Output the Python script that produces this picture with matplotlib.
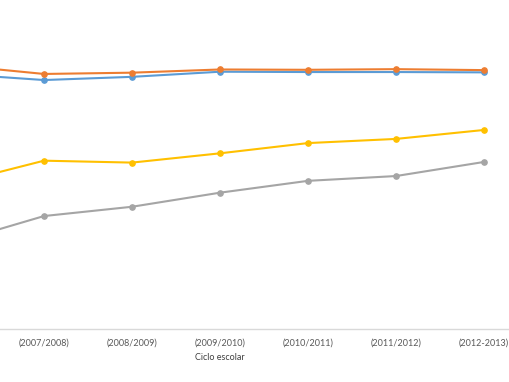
import matplotlib.pyplot as plt

# ciclos escolares (el primero queda fuera del recorte)
ciclos = ['(2006/2007)', '(2007/2008)', '(2008/2009)', '(2009/2010)',
          '(2010/2011)', '(2011/2012)', '(2012-2013)']

naranja = [82.4, 79.7, 80.1, 81.1, 81.0, 81.2, 80.9]
azul = [79.7, 77.8, 78.8, 80.4, 80.3, 80.3, 80.2]
amarillo = [45.6, 52.6, 52.0, 54.9, 58.1, 59.4, 62.2]
gris = [27.2, 35.3, 38.2, 42.6, 46.3, 47.8, 52.2]

plt.rcParams['font.family'] = ['Lato', 'DejaVu Sans']

fig = plt.figure(figsize=(5.1, 3.82), dpi=100)
# el eje se extiende más allá del borde izquierdo, como en el recorte original
ax = fig.add_axes([-88/510, 53/382, 616/510, 320/382])

x = range(len(ciclos))
for serie, color in [(azul, '#5B9BD5'), (naranja, '#ED7D31'),
                     (amarillo, '#FFC000'), (gris, '#A5A5A5')]:
    ax.plot(x, serie, color=color, linewidth=1.5, marker='o',
            markersize=3.8, clip_on=False)

ax.set_xlim(-0.5, len(ciclos) - 0.5)
ax.set_ylim(0, 100)
ax.set_xticks(list(x))
ax.set_xticklabels(ciclos, fontsize=6.5, color='#595959')
# la etiqueta del primer ciclo cae fuera del recorte
ax.get_xticklabels()[0].set_visible(False)
ax.tick_params(axis='x', length=0, pad=7)
ax.set_yticks([])
for s in ['top', 'right', 'left']:
    ax.spines[s].set_visible(False)
ax.spines['bottom'].set_color('#D9D9D9')
ax.spines['bottom'].set_linewidth(1)
ax.set_xlabel('Ciclo escolar', fontsize=6.5, color='#404040', labelpad=4)

fig.savefig('out.png', dpi=100)
